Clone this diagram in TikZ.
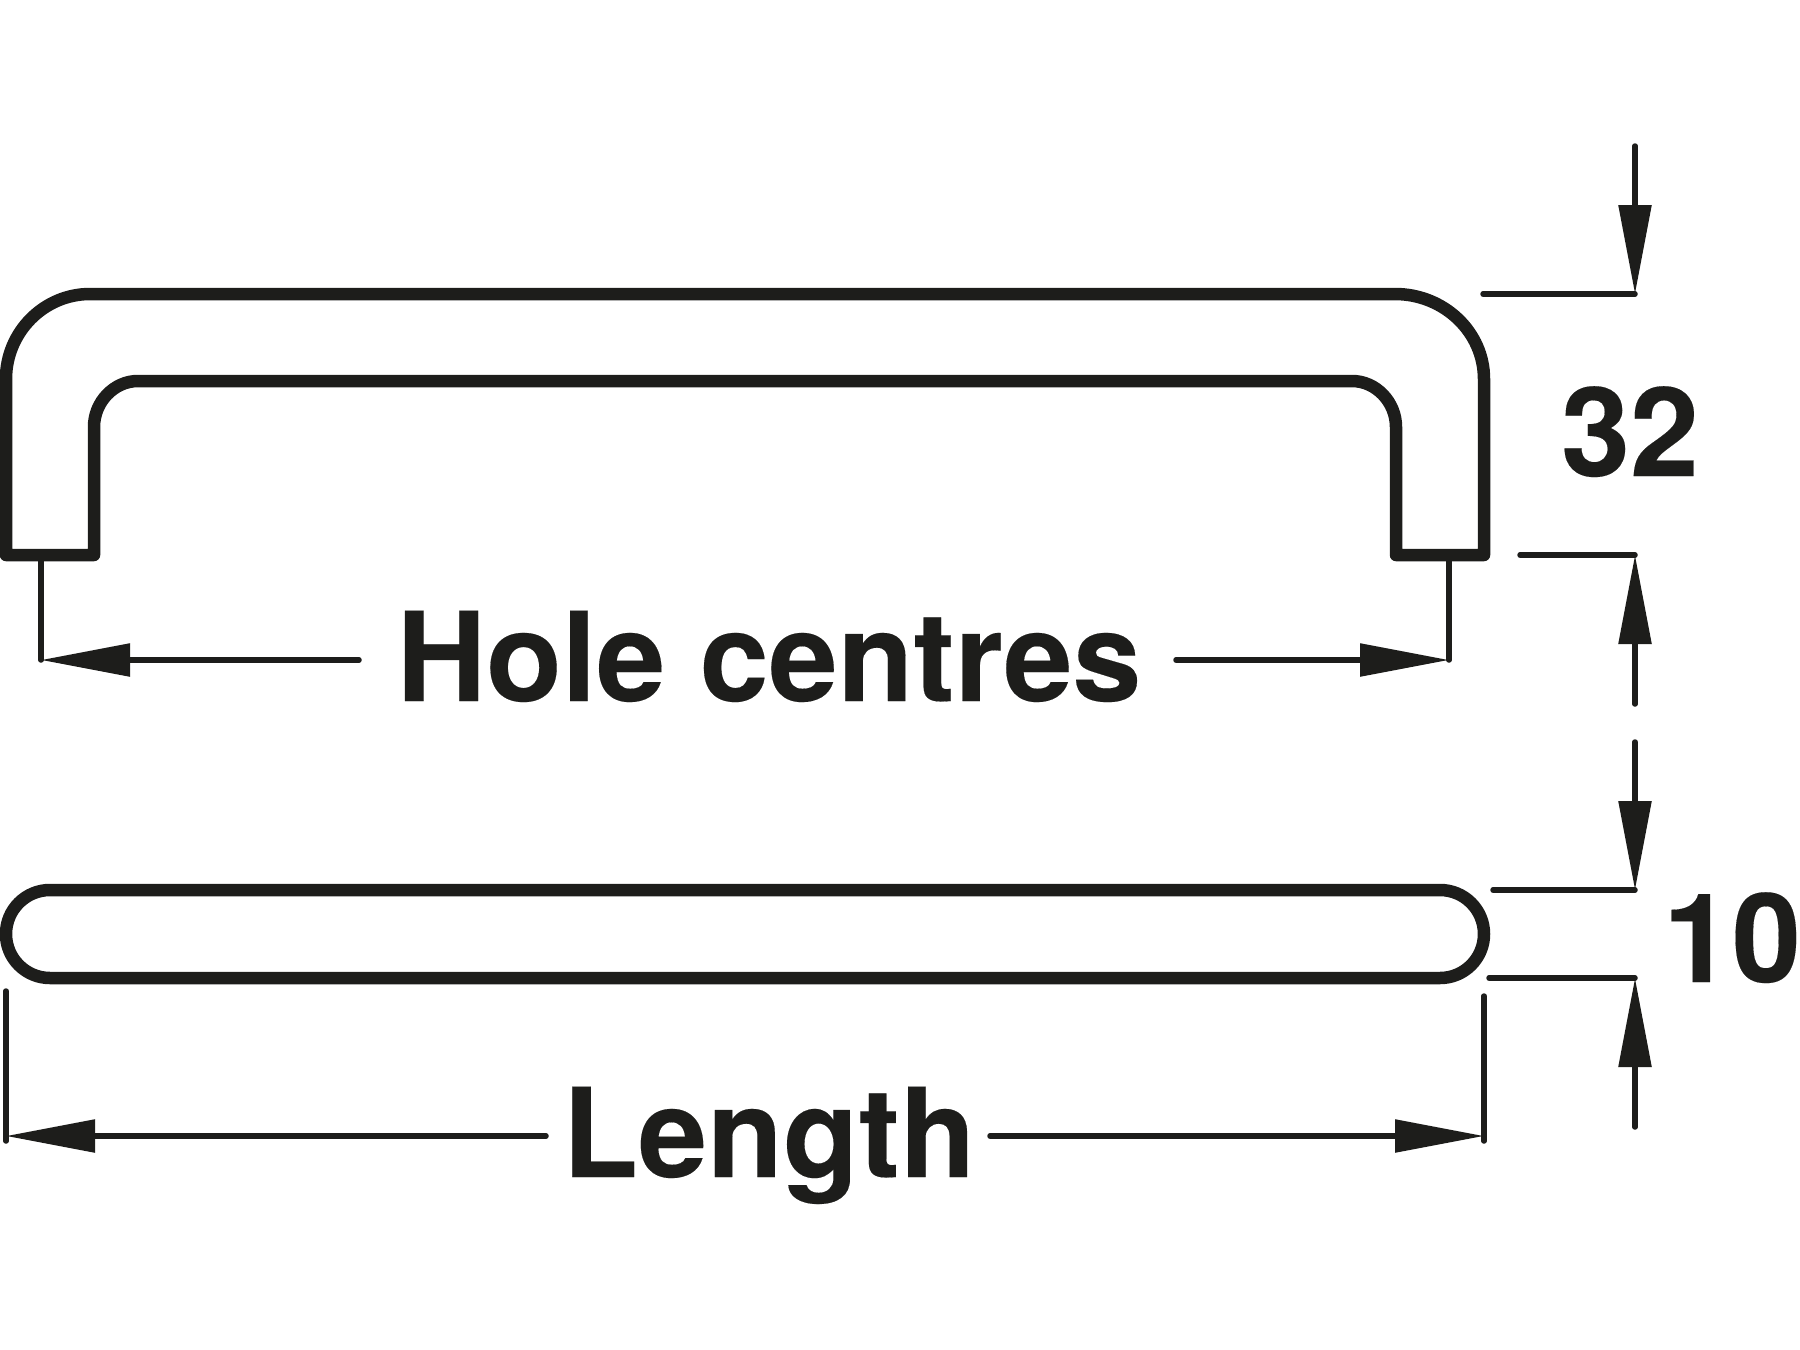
\documentclass[tikz,border=0pt]{standalone}
\usepackage{fontspec}
\setmainfont[BoldFeatures={FakeBold=0.12}]{TeX Gyre Heros}
\usetikzlibrary{arrows.meta}
\definecolor{ink}{HTML}{1D1D1B}
\tikzset{
  outline/.style={draw=ink,line width=12.5pt,line join=round,line cap=round},
  dimline/.style={draw=ink,line width=5.5pt,line cap=round},
  dimarrow/.style={draw=ink,line width=5.5pt,line cap=round,-{Triangle[length=89pt,width=32pt,fill=ink]}},
  lab/.style={text=ink,font=\fontsize{124pt}{124pt}\selectfont\bfseries,inner sep=0pt,anchor=base}
}
\begin{document}
\begin{tikzpicture}[x=1pt,y=-1pt]
\useasboundingbox (0,0) rectangle (1800,1350);
% handle, side view
\draw[outline] (6,555) -- (6,379) .. controls (6,332) and (44,294) .. (90,294)
  -- (1395,294) .. controls (1444,294) and (1484,332) .. (1484,379)
  -- (1484,555) -- (1396,555) -- (1396,427) .. controls (1396,402) and (1376,381) .. (1352,381)
  -- (138,381) .. controls (114,381) and (94,402) .. (94,427) -- (94,555) -- cycle;
% handle, top view
\draw[outline] (50,890) -- (1440,890) arc[start angle=-90,end angle=90,radius=44]
  -- (50,978) arc[start angle=90,end angle=270,radius=44] -- cycle;
% named points
\coordinate (hcLtop) at (41,555);
\coordinate (hcL) at (41,660);
\coordinate (hcRtop) at (1449,555);
\coordinate (hcR) at (1449,660);
\coordinate (hcLs) at (359,660);
\coordinate (hcRs) at (1176,660);
\coordinate (lenLtop) at (6,991);
\coordinate (lenL) at (6,1136);
\coordinate (lenLb) at (6,1141);
\coordinate (lenRtop) at (1484,996);
\coordinate (lenR) at (1484,1136);
\coordinate (lenRb) at (1484,1141);
\coordinate (lenLs) at (546,1136);
\coordinate (lenRs) at (990,1136);
\coordinate (e1a) at (1483,294);
\coordinate (e1b) at (1635,294);
\coordinate (e2a) at (1520,555);
\coordinate (e2b) at (1635,555);
\coordinate (e3a) at (1493,890);
\coordinate (e3b) at (1635,890);
\coordinate (e4a) at (1489,978);
\coordinate (e4b) at (1635,978);
\coordinate (a1) at (1635,146);
\coordinate (a2) at (1635,704);
\coordinate (a3) at (1635,742);
\coordinate (a4) at (1635,1127);
% extension lines
\draw[dimline] (hcLtop) -- (hcL);
\draw[dimline] (hcRtop) -- (hcR);
\draw[dimline] (lenLtop) -- (lenLb);
\draw[dimline] (lenRtop) -- (lenRb);
\draw[dimline] (e1a) -- (e1b);
\draw[dimline] (e2a) -- (e2b);
\draw[dimline] (e3a) -- (e3b);
\draw[dimline] (e4a) -- (e4b);
% arrows
\draw[dimarrow] (hcLs) -- (hcL);
\draw[dimarrow] (hcRs) -- (hcR);
\draw[dimarrow] (lenLs) -- (lenL);
\draw[dimarrow] (lenRs) -- (lenR);
\draw[dimarrow] (a1) -- (e1b);
\draw[dimarrow] (a2) -- (e2b);
\draw[dimarrow] (a3) -- (e3b);
\draw[dimarrow] (a4) -- (e4b);
% labels
\node[lab] (holes) at (769,701) {Hole centres};
\node[lab] (length) at (769,1177) {Length};
\node[lab] (d32) at (1630,476) {32};
\node[lab] (d10) at (1732,982) {10};
\end{tikzpicture}
\end{document}
